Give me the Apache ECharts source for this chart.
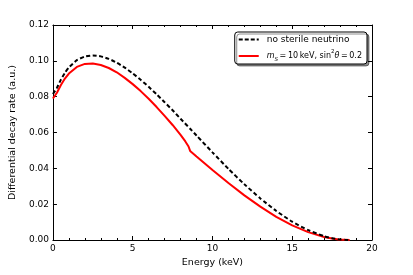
<!DOCTYPE html>
<html>
<head>
<meta charset="utf-8">
<script src="https://cdn.jsdelivr.net/npm/echarts@6/dist/echarts.min.js"></script>
<style>
html,body{margin:0;padding:0;background:#fff;}
#chart{width:413px;height:275px;}
</style>
</head>
<body>
<div id="chart"></div>
<script>
// Data
const energyNoSterile = [0, 0.25, 0.5, 0.75, 1, 1.5, 2, 2.5, 3, 3.5, 4, 4.5, 5, 5.5, 6, 6.5, 7, 7.5, 8, 8.6, 9, 10, 11, 12, 13, 14, 15, 16, 17, 17.5, 18, 18.3, 18.6];
const rateNoSterile   = [0.0815, 0.0849, 0.0895, 0.0933, 0.0963, 0.1004, 0.1024, 0.1030, 0.1025, 0.1011, 0.0990, 0.0962, 0.0930, 0.0894, 0.0855, 0.0813, 0.0769, 0.0724, 0.0677, 0.0621, 0.0583, 0.0489, 0.0397, 0.0311, 0.0232, 0.0162, 0.0102, 0.0055, 0.0021, 0.0010, 0.0003, 0.0001, 0];
const energySterile = [0, 0.25, 0.5, 0.75, 1, 1.5, 2, 2.5, 3, 3.5, 4, 4.5, 5, 5.5, 6, 6.5, 7, 7.5, 8, 8.3, 8.5, 8.55, 8.6, 9, 10, 11, 12, 13, 14, 15, 16, 17, 17.5, 18, 18.3, 18.6];
const rateSterile   = [0.0790, 0.0822, 0.0865, 0.0901, 0.0929, 0.0966, 0.0983, 0.0985, 0.0977, 0.0960, 0.0936, 0.0905, 0.0870, 0.0831, 0.0788, 0.0742, 0.0693, 0.0642, 0.0587, 0.0550, 0.0522, 0.0513, 0.0497, 0.0466, 0.0391, 0.0318, 0.0249, 0.0186, 0.0129, 0.0082, 0.0044, 0.0017, 0.0008, 0.0002, 0.0001, 0];
const xTicks = [0, 5, 10, 15, 20];
const yTicks = [0.00, 0.02, 0.04, 0.06, 0.08, 0.10, 0.12];
const seriesNames = ['no sterile neutrino', 'sterile'];

const font = 'DejaVu Sans';
const pair = (xs, ys) => xs.map((x, i) => [x, ys[i]]);

const chart = echarts.init(document.getElementById('chart'), null, {renderer: 'canvas'});
const axisCommon = {
  axisLine: {show: true, onZero: false, lineStyle: {color: '#000', width: 1}},
  axisTick: {show: true, inside: true, length: 4, lineStyle: {color: '#000', width: 1}},
  splitLine: {show: false}
};
const dashIcon = 'path://M0,4h4v2h-4zM6,4h4v2h-4zM12,4h4v2h-4zM18,4h2v2h-2z';
const solidIcon = 'path://M0,4h20v2h-20z';
chart.setOption({
  animation: false,
  backgroundColor: '#fff',
  grid: {left: 51, right: 41, top: 25, bottom: 35, containLabel: false},
  xAxis: [
    Object.assign({}, axisCommon, {
      type: 'value', min: xTicks[0], max: xTicks[xTicks.length - 1], interval: 5, position: 'bottom',
      minorTick: {show: true, splitNumber: 5, length: 2, lineStyle: {color: '#000', width: 1}},
      axisLabel: {fontFamily: font, fontSize: 9, color: '#000', margin: 4},
      name: 'Energy (keV)', nameLocation: 'middle', nameGap: 16,
      nameTextStyle: {fontFamily: font, fontSize: 9.5, color: '#000'}
    }),
    Object.assign({}, axisCommon, {
      type: 'value', min: xTicks[0], max: xTicks[xTicks.length - 1], interval: 5, position: 'top',
      minorTick: {show: true, splitNumber: 5, length: 2, lineStyle: {color: '#000', width: 1}},
      axisLabel: {show: false}
    })
  ],
  yAxis: [
    Object.assign({}, axisCommon, {
      type: 'value', min: yTicks[0], max: yTicks[yTicks.length - 1], interval: 0.02, position: 'left',
      axisLabel: {fontFamily: font, fontSize: 9, color: '#000', margin: 4, formatter: v => v.toFixed(2)},
      name: 'Differential decay rate (a.u.)', nameLocation: 'middle', nameGap: 29, nameRotate: 90,
      nameTextStyle: {fontFamily: font, fontSize: 9.5, color: '#000'}
    }),
    Object.assign({}, axisCommon, {
      type: 'value', min: yTicks[0], max: yTicks[yTicks.length - 1], interval: 0.02, position: 'right',
      axisLabel: {show: false}
    })
  ],
  legend: {
    orient: 'vertical', right: 46, top: 32,
    data: [
      {name: seriesNames[0], icon: dashIcon, itemStyle: {color: '#000'}},
      {name: seriesNames[1], icon: solidIcon, itemStyle: {color: '#ff0000'}}
    ],
    itemWidth: 20, itemHeight: 10, itemGap: 5,
    padding: [3, 5, 1, 4],
    backgroundColor: '#fff', borderColor: '#000', borderWidth: 1, borderRadius: 3,
    shadowColor: 'rgba(0,0,0,0.45)', shadowBlur: 0, shadowOffsetX: 2, shadowOffsetY: 2,
    textStyle: {
      fontFamily: font, fontSize: 9, color: '#000', padding: [0, 0, 0, 3],
      rich: {
        n: {fontFamily: font, fontSize: 9, lineHeight: 14, color: '#000'},
        m: {fontFamily: font, fontSize: 8, lineHeight: 14, color: '#000'},
        i: {fontFamily: font, fontSize: 8, lineHeight: 14, fontStyle: 'italic', color: '#000'},
        sub: {fontFamily: font, fontSize: 5.5, lineHeight: 8, fontStyle: 'italic', verticalAlign: 'bottom', color: '#000'},
        sup: {fontFamily: font, fontSize: 5.5, lineHeight: 8, verticalAlign: 'top', color: '#000'}
      }
    },
    formatter: function (name) {
      if (name === 'sterile') {
        return '{i|m}{sub|S}{m|\u2009=\u200910\u2009keV, sin}{sup|2}{i|θ}{m|\u2009=\u20090.2}';
      }
      return '{n|' + name + '}';
    }
  },
  series: [
    {
      name: seriesNames[0], type: 'line', xAxisIndex: 0, yAxisIndex: 0,
      data: pair(energyNoSterile, rateNoSterile),
      showSymbol: false, symbol: 'none', smooth: 0.15,
      lineStyle: {color: '#000', width: 2, type: [4, 2.5]},
      itemStyle: {color: '#000'}, z: 3
    },
    {
      name: seriesNames[1], type: 'line', xAxisIndex: 0, yAxisIndex: 0,
      data: pair(energySterile, rateSterile),
      showSymbol: false, symbol: 'none', smooth: false,
      lineStyle: {color: '#ff0000', width: 2},
      itemStyle: {color: '#ff0000'}, z: 2
    }
  ]
});
</script>
</body>
</html>
